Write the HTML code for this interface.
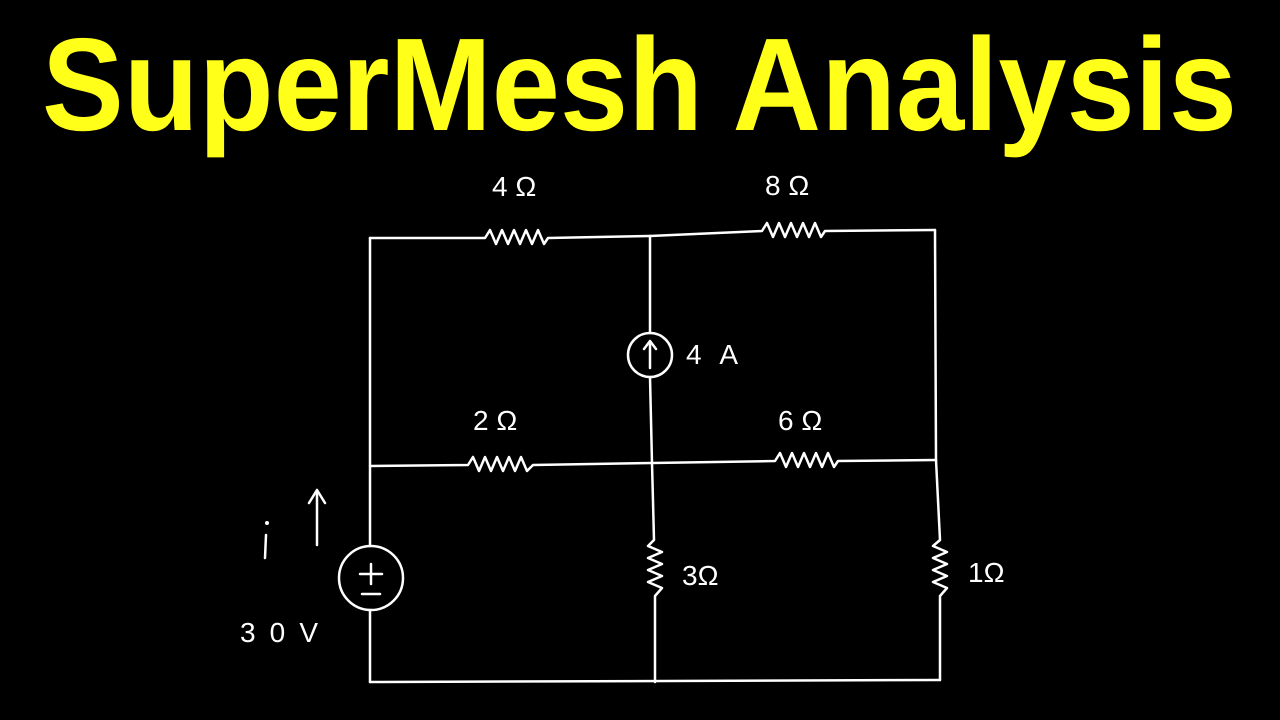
<!DOCTYPE html>
<html><head><meta charset="utf-8"><style>
html,body{margin:0;padding:0;background:#000;width:1280px;height:720px;overflow:hidden}
</style></head><body>
<svg width="1280" height="720" viewBox="0 0 1280 720" xmlns="http://www.w3.org/2000/svg">
<rect width="1280" height="720" fill="#000"/>
<text x="42" y="130" fill="#ffff1a" font-family="Liberation Sans, sans-serif" font-weight="bold" font-size="132" textLength="1195" lengthAdjust="spacingAndGlyphs">SuperMesh Analysis</text>
<g stroke="#fff" stroke-width="2.5" fill="none" stroke-linecap="round" stroke-linejoin="round">
<polyline points="370,238 485,238 490,230 496,244 502,230 508,244 514,230 520,244 526,230 532,244 538,230 544,244 548,238 650,236"/>
<polyline points="650,236 762,231 767,223 773,237 779,223 785,237 791,223 797,237 803,223 809,237 815,223 821,237 825,231 935,230"/>
<line x1="370" y1="238" x2="370" y2="546"/>
<line x1="370" y1="610" x2="370" y2="682"/>
<line x1="935" y1="230" x2="936" y2="460"/>
<polyline points="936,460 940,540 933,546 947,552 933,558 947,564 933,570 947,576 933,582 947,588 940,596 940,680"/>
<line x1="650" y1="236" x2="650" y2="333"/>
<line x1="650" y1="377" x2="652" y2="463"/>
<polyline points="652,463 654,540 648,546 662,552 648,558 662,564 648,570 662,576 648,582 662,588 655,596 655,682"/>
<polyline points="370,466 468,465 473,457 479,471 485,457 491,471 497,457 503,471 509,457 515,471 521,457 527,471 533,465 652,463"/>
<polyline points="652,463 775,461 780,453 786,467 792,453 798,467 804,453 810,467 816,453 822,467 828,453 834,467 838,461 936,460"/>
<line x1="370" y1="682" x2="940" y2="680"/>
<circle cx="650" cy="355" r="22"/>
<line x1="650" y1="368" x2="650" y2="342"/>
<polyline points="644,349 650,341 656,349"/>
<circle cx="371" cy="578" r="32"/>
<line x1="360" y1="574" x2="382" y2="574"/><line x1="371" y1="564" x2="371" y2="584"/>
<line x1="362" y1="594" x2="380" y2="594"/>
<line x1="317" y1="545" x2="317" y2="492"/>
<polyline points="309,503 317,490 325,503"/>
<line x1="266" y1="535" x2="265" y2="558"/>
</g>
<circle cx="267" cy="523" r="2" fill="#fff"/>
<g fill="#fff" font-family="Liberation Sans, sans-serif" font-size="28">
<text x="492" y="196">4 Ω</text>
<text x="765" y="195">8 Ω</text>
<text x="473" y="430">2 Ω</text>
<text x="778" y="430">6 Ω</text>
<text x="686" y="364" textLength="52">4A</text>
<text x="682" y="585">3Ω</text>
<text x="968" y="582">1Ω</text>
<text x="240" y="642" textLength="78">30V</text>
</g>
</svg>
</body></html>
